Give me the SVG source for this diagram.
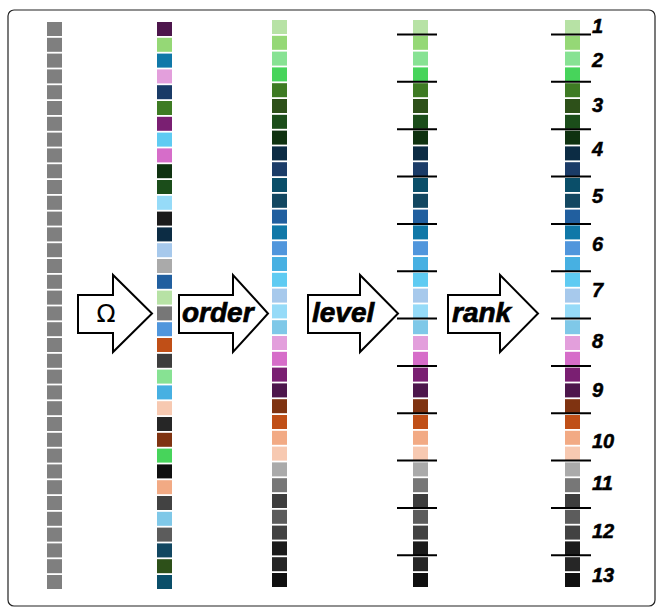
<svg xmlns="http://www.w3.org/2000/svg" xmlns:xlink="http://www.w3.org/1999/xlink" width="660" height="612" viewBox="0 0 660 612">
<style>
.g{fill:#7f7f7f}
.c1{fill:#b7e2a5}.c2{fill:#95d876}.c3{fill:#87e293}.c4{fill:#47d45b}.c5{fill:#3e7b23}.c6{fill:#2d5019}
.c7{fill:#1b4d1a}.c8{fill:#0f3210}.c9{fill:#0c2c44}.c10{fill:#1a3b67}.c11{fill:#0a4e69}.c12{fill:#124761}
.c13{fill:#215f9f}.c14{fill:#1078a8}.c15{fill:#5096dc}.c16{fill:#47b0e2}.c17{fill:#5fcbf2}.c18{fill:#a7c9ec}
.c19{fill:#96dbf8}.c20{fill:#7fc8e8}.c21{fill:#e39fdc}.c22{fill:#d66dc9}.c23{fill:#7a1f72}.c24{fill:#4d164c}
.c25{fill:#7f3311}.c26{fill:#c04f17}.c27{fill:#f2aa84}.c28{fill:#f7c9b1}.c29{fill:#aaaaaa}.c30{fill:#777777}
.c31{fill:#3d3d3d}.c32{fill:#5c5c5c}.c33{fill:#424242}.c34{fill:#1b1b1b}.c35{fill:#262626}.c36{fill:#0f0f0f}
.arrow{fill:#fff;stroke:#000;stroke-width:2;stroke-linejoin:miter}
.lbl{font-family:"Liberation Sans",Arial,sans-serif;font-weight:bold;font-style:italic;font-size:28px;fill:#000;stroke:#000;stroke-width:0.7}
.om{font-family:"DejaVu Sans","Liberation Sans",sans-serif;font-size:25px;fill:#000}
.num{font-family:"Liberation Sans",Arial,sans-serif;font-weight:bold;font-style:italic;font-size:20px;fill:#000;stroke:#000;stroke-width:0.5}
.lv{stroke:#000;stroke-width:2}
.frame{fill:none;stroke:#222;stroke-width:1.2}
</style>
<defs>
<g id="grayStack">
<rect class="g" x="0" y="0" width="15" height="14"/><rect class="g" x="0" y="15.8" width="15" height="14"/><rect class="g" x="0" y="31.6" width="15" height="14"/><rect class="g" x="0" y="47.4" width="15" height="14"/><rect class="g" x="0" y="63.2" width="15" height="14"/><rect class="g" x="0" y="79" width="15" height="14"/><rect class="g" x="0" y="94.8" width="15" height="14"/><rect class="g" x="0" y="110.6" width="15" height="14"/><rect class="g" x="0" y="126.4" width="15" height="14"/><rect class="g" x="0" y="142.2" width="15" height="14"/><rect class="g" x="0" y="158" width="15" height="14"/><rect class="g" x="0" y="173.8" width="15" height="14"/><rect class="g" x="0" y="189.6" width="15" height="14"/><rect class="g" x="0" y="205.4" width="15" height="14"/><rect class="g" x="0" y="221.2" width="15" height="14"/><rect class="g" x="0" y="237" width="15" height="14"/><rect class="g" x="0" y="252.8" width="15" height="14"/><rect class="g" x="0" y="268.6" width="15" height="14"/><rect class="g" x="0" y="284.4" width="15" height="14"/><rect class="g" x="0" y="300.2" width="15" height="14"/><rect class="g" x="0" y="316" width="15" height="14"/><rect class="g" x="0" y="331.8" width="15" height="14"/><rect class="g" x="0" y="347.6" width="15" height="14"/><rect class="g" x="0" y="363.4" width="15" height="14"/><rect class="g" x="0" y="379.2" width="15" height="14"/><rect class="g" x="0" y="395" width="15" height="14"/><rect class="g" x="0" y="410.8" width="15" height="14"/><rect class="g" x="0" y="426.6" width="15" height="14"/><rect class="g" x="0" y="442.4" width="15" height="14"/><rect class="g" x="0" y="458.2" width="15" height="14"/><rect class="g" x="0" y="474" width="15" height="14"/><rect class="g" x="0" y="489.8" width="15" height="14"/><rect class="g" x="0" y="505.6" width="15" height="14"/><rect class="g" x="0" y="521.4" width="15" height="14"/><rect class="g" x="0" y="537.2" width="15" height="14"/><rect class="g" x="0" y="553" width="15" height="14"/>
</g>
<g id="sortedStack">
<rect class="c1" x="0" y="0" width="15" height="14"/><rect class="c2" x="0" y="15.8" width="15" height="14"/><rect class="c3" x="0" y="31.6" width="15" height="14"/><rect class="c4" x="0" y="47.4" width="15" height="14"/><rect class="c5" x="0" y="63.2" width="15" height="14"/><rect class="c6" x="0" y="79" width="15" height="14"/><rect class="c7" x="0" y="94.8" width="15" height="14"/><rect class="c8" x="0" y="110.6" width="15" height="14"/><rect class="c9" x="0" y="126.4" width="15" height="14"/><rect class="c10" x="0" y="142.2" width="15" height="14"/><rect class="c11" x="0" y="158" width="15" height="14"/><rect class="c12" x="0" y="173.8" width="15" height="14"/><rect class="c13" x="0" y="189.6" width="15" height="14"/><rect class="c14" x="0" y="205.4" width="15" height="14"/><rect class="c15" x="0" y="221.2" width="15" height="14"/><rect class="c16" x="0" y="237" width="15" height="14"/><rect class="c17" x="0" y="252.8" width="15" height="14"/><rect class="c18" x="0" y="268.6" width="15" height="14"/><rect class="c19" x="0" y="284.4" width="15" height="14"/><rect class="c20" x="0" y="300.2" width="15" height="14"/><rect class="c21" x="0" y="316" width="15" height="14"/><rect class="c22" x="0" y="331.8" width="15" height="14"/><rect class="c23" x="0" y="347.6" width="15" height="14"/><rect class="c24" x="0" y="363.4" width="15" height="14"/><rect class="c25" x="0" y="379.2" width="15" height="14"/><rect class="c26" x="0" y="395" width="15" height="14"/><rect class="c27" x="0" y="410.8" width="15" height="14"/><rect class="c28" x="0" y="426.6" width="15" height="14"/><rect class="c29" x="0" y="442.4" width="15" height="14"/><rect class="c30" x="0" y="458.2" width="15" height="14"/><rect class="c31" x="0" y="474" width="15" height="14"/><rect class="c32" x="0" y="489.8" width="15" height="14"/><rect class="c33" x="0" y="505.6" width="15" height="14"/><rect class="c34" x="0" y="521.4" width="15" height="14"/><rect class="c35" x="0" y="537.2" width="15" height="14"/><rect class="c36" x="0" y="553" width="15" height="14"/>
</g>
<g id="levelLines">
<line class="lv" x1="0" x2="40" y1="34.5" y2="34.5"/><line class="lv" x1="0" x2="40" y1="81.8" y2="81.8"/><line class="lv" x1="0" x2="40" y1="129.2" y2="129.2"/><line class="lv" x1="0" x2="40" y1="176.5" y2="176.5"/><line class="lv" x1="0" x2="40" y1="223.9" y2="223.9"/><line class="lv" x1="0" x2="40" y1="271.2" y2="271.2"/><line class="lv" x1="0" x2="40" y1="318.6" y2="318.6"/><line class="lv" x1="0" x2="40" y1="365.9" y2="365.9"/><line class="lv" x1="0" x2="40" y1="413.3" y2="413.3"/><line class="lv" x1="0" x2="40" y1="460.6" y2="460.6"/><line class="lv" x1="0" x2="40" y1="508" y2="508"/><line class="lv" x1="0" x2="40" y1="555.3" y2="555.3"/>
</g>
</defs>
<rect class="frame" x="8" y="10" width="647" height="596" rx="6"/>
<g id="col-input"><use xlink:href="#grayStack" x="47" y="22"/></g>
<g id="col-shuffled" transform="translate(157,22)">
<rect class="c24" x="0" y="0" width="15" height="14"/><rect class="c2" x="0" y="15.8" width="15" height="14"/><rect class="c14" x="0" y="31.6" width="15" height="14"/><rect class="c21" x="0" y="47.4" width="15" height="14"/><rect class="c10" x="0" y="63.2" width="15" height="14"/><rect class="c5" x="0" y="79" width="15" height="14"/><rect class="c23" x="0" y="94.8" width="15" height="14"/><rect class="c17" x="0" y="110.6" width="15" height="14"/><rect class="c22" x="0" y="126.4" width="15" height="14"/><rect class="c8" x="0" y="142.2" width="15" height="14"/><rect class="c7" x="0" y="158" width="15" height="14"/><rect class="c19" x="0" y="173.8" width="15" height="14"/><rect class="c34" x="0" y="189.6" width="15" height="14"/><rect class="c9" x="0" y="205.4" width="15" height="14"/><rect class="c18" x="0" y="221.2" width="15" height="14"/><rect class="c29" x="0" y="237" width="15" height="14"/><rect class="c13" x="0" y="252.8" width="15" height="14"/><rect class="c1" x="0" y="268.6" width="15" height="14"/><rect class="c30" x="0" y="284.4" width="15" height="14"/><rect class="c15" x="0" y="300.2" width="15" height="14"/><rect class="c26" x="0" y="316" width="15" height="14"/><rect class="c31" x="0" y="331.8" width="15" height="14"/><rect class="c3" x="0" y="347.6" width="15" height="14"/><rect class="c16" x="0" y="363.4" width="15" height="14"/><rect class="c28" x="0" y="379.2" width="15" height="14"/><rect class="c35" x="0" y="395" width="15" height="14"/><rect class="c25" x="0" y="410.8" width="15" height="14"/><rect class="c4" x="0" y="426.6" width="15" height="14"/><rect class="c36" x="0" y="442.4" width="15" height="14"/><rect class="c27" x="0" y="458.2" width="15" height="14"/><rect class="c33" x="0" y="474" width="15" height="14"/><rect class="c20" x="0" y="489.8" width="15" height="14"/><rect class="c32" x="0" y="505.6" width="15" height="14"/><rect class="c12" x="0" y="521.4" width="15" height="14"/><rect class="c6" x="0" y="537.2" width="15" height="14"/><rect class="c11" x="0" y="553" width="15" height="14"/>
</g>
<g id="col-ordered"><use xlink:href="#sortedStack" x="272" y="20"/></g>
<g id="col-level"><use xlink:href="#sortedStack" x="413" y="20"/><use xlink:href="#levelLines" x="397"/></g>
<g id="col-rank">
<use xlink:href="#sortedStack" x="565" y="20"/><use xlink:href="#levelLines" x="551"/>
<text class="num" x="592" y="33">1</text><text class="num" x="592" y="67">2</text><text class="num" x="592" y="112">3</text><text class="num" x="592" y="156">4</text><text class="num" x="592" y="203">5</text><text class="num" x="592" y="251">6</text><text class="num" x="592" y="297">7</text><text class="num" x="592" y="348">8</text><text class="num" x="592" y="397">9</text><text class="num" x="592" y="448">10</text><text class="num" x="592" y="490">11</text><text class="num" x="592" y="538">12</text><text class="num" x="592" y="582">13</text>
</g>
<g id="connectors">
<g id="arrow-omega"><path class="arrow" d="M78,295 H113 V275 L152,313.5 L113,352 V333 H78 Z"/><text class="om" x="106" y="322" text-anchor="middle">Ω</text></g>
<g id="arrow-order"><path class="arrow" d="M179,295 H233 V275 L268,313.5 L233,352 V333 H179 Z"/><text class="lbl" x="182" y="322">order</text></g>
<g id="arrow-level"><path class="arrow" d="M308,295 H360 V275 L398,313.5 L360,352 V333 H308 Z"/><text class="lbl" x="312" y="322">level</text></g>
<g id="arrow-rank"><path class="arrow" d="M448,295 H500 V275 L538,313.5 L500,352 V333 H448 Z"/><text class="lbl" x="452" y="322">rank</text></g>
</g>
</svg>
